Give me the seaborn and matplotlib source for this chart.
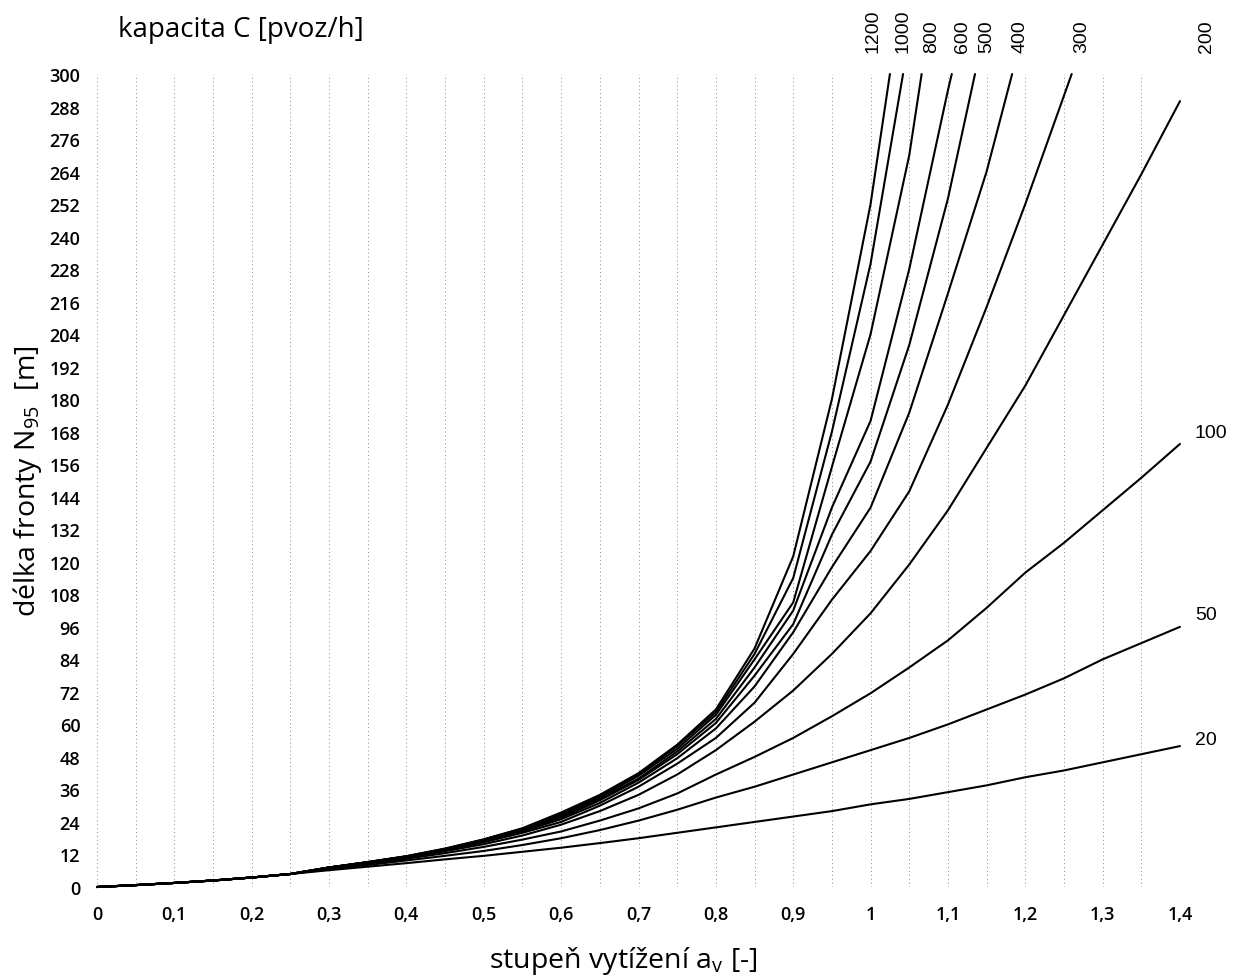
import numpy as np
import pandas as pd
import matplotlib
matplotlib.use("Agg")
import matplotlib.pyplot as plt
import seaborn as sns

# stupen vytizeni a_v, spolecna mrizka po 0,05
a_grid = [0, 0.05, 0.1, 0.15, 0.2, 0.25, 0.3, 0.35, 0.4, 0.45, 0.5, 0.55, 0.6,
          0.65, 0.7, 0.75, 0.8, 0.85, 0.9, 0.95, 1.0, 1.05, 1.1, 1.15, 1.2,
          1.25, 1.3, 1.35, 1.4]

start = [0, 0.7, 1.5, 2.4, 3.5, 4.8]

# delka fronty N95 [m] pro jednotlive kapacity
n_20 = start + [6.2, 7.5, 8.8, 10.2, 11.5, 13, 14.5, 16.2, 18, 20, 22, 24, 26, 28,
                30.5, 32.5, 35, 37.5, 40.5, 43, 46, 49, 52]
n_50 = start + [6.6, 8.1, 9.8, 11.5, 13.3, 15.5, 18, 21, 24.5, 28.5, 33, 37, 41.5,
                46, 50.5, 55, 60, 65.5, 71, 77, 84, 90, 96]
n_100 = start + [6.9, 8.6, 10.4, 12.5, 14.8, 17.5, 20.5, 24.5, 29, 34.5, 41.5, 48,
                 55, 63, 71.5, 81, 91, 103, 116, 127, 139, 151, 163.5]
n_200 = start + [7.1, 8.9, 10.8, 13.2, 15.8, 19, 23, 28, 34, 41.5, 50.5, 61, 72.5,
                 86, 101, 119, 139, 162, 185, 211, 237, 263, 290]
n_300 = start + [7.2, 9, 11, 13.5, 16.5, 20, 24, 30, 37, 45.5, 55, 68, 86, 106,
                 124, 146, 178, 214, 252]
n_400 = start + [7.2, 9, 11.1, 13.6, 16.8, 20.5, 25, 31, 38.5, 47.5, 58.5, 74, 94,
                 118, 140, 175, 219, 264]
n_500 = start + [7.2, 9.1, 11.2, 13.8, 17, 20.8, 25.5, 32, 39.5, 49, 60.5, 78, 97,
                 130, 157, 200, 254]
n_600 = start + [7.2, 9.1, 11.2, 13.9, 17.2, 21, 26, 32.5, 40, 50, 62, 81, 102,
                 140, 172, 228, 294]
n_800 = start + [7.2, 9.2, 11.3, 14, 17.4, 21.3, 26.5, 33, 41, 51, 63.5, 84, 105,
                 155, 204, 270]
n_1000 = start + [7.2, 9.2, 11.3, 14.1, 17.5, 21.5, 27, 33.5, 41.5, 52, 64.5, 86,
                  114, 168, 230]
n_1200 = start + [7.2, 9.2, 11.4, 14.2, 17.6, 21.7, 27.5, 34, 42, 52.5, 65.5, 88,
                  122, 180, 252]

capacities = [20, 50, 100, 200, 300, 400, 500, 600, 800, 1000, 1200]
curves = [n_20, n_50, n_100, n_200, n_300, n_400, n_500, n_600, n_800, n_1000, n_1200]
# kde krivka opousti graf nahore (N95 = 300)
a_at_top = {300: 1.26, 400: 1.183, 500: 1.135, 600: 1.105, 800: 1.066,
            1000: 1.042, 1200: 1.025}

rows = []
for c, vals in zip(capacities, curves):
    for a, n in zip(a_grid, vals):
        rows.append((c, a, n))
    if c in a_at_top:
        rows.append((c, a_at_top[c], 300))
df = pd.DataFrame(rows, columns=["C", "a", "N95"])

sns.set_theme(style="white")
plt.rcParams["font.family"] = ["Open Sans", "DejaVu Sans"]
plt.rcParams["text.color"] = "black"
plt.rcParams["axes.labelcolor"] = "black"
plt.rcParams["xtick.color"] = "black"
plt.rcParams["ytick.color"] = "black"

W, H = 1238, 978
fig = plt.figure(figsize=(W / 100, H / 100), dpi=100)
ax = fig.add_axes([97 / W, (H - 888) / H, (1180 - 97) / W, (888 - 75) / H])

sns.lineplot(data=df, x="a", y="N95", hue="C", units="C", estimator=None,
             sort=False, palette={c: "black" for c in capacities},
             linewidth=1.5, legend=False, ax=ax)
for ln in ax.lines:
    ln.set_clip_on(False)

ax.set_xlim(0, 1.4)
ax.set_ylim(0, 300)
x_ticks = [0, 0.1, 0.2, 0.3, 0.4, 0.5, 0.6, 0.7, 0.8, 0.9, 1, 1.1, 1.2, 1.3, 1.4]
x_labels = ["0", "0,1", "0,2", "0,3", "0,4", "0,5", "0,6", "0,7", "0,8", "0,9",
            "1", "1,1", "1,2", "1,3", "1,4"]
ax.set_xticks(x_ticks)
ax.set_xticklabels(x_labels)
ax.set_xticks(np.arange(0.05, 1.401, 0.1), minor=True)
ax.set_yticks(np.arange(0, 301, 12))
ax.tick_params(axis="x", which="both", length=0, pad=13, labelsize=13)
ax.tick_params(axis="y", length=0, pad=12, labelsize=13)
for lab in ax.get_xticklabels() + ax.get_yticklabels():
    lab.set_fontweight("semibold")
ax.grid(False)
ax.grid(axis="x", which="both", color="#555555", linestyle=(0, (1, 3)),
        linewidth=0.7, alpha=0.7)
sns.despine(ax=ax, left=True, bottom=True, top=True, right=True)

ax.set_xlabel("stupeň vytížení a$_\\mathregular{v}$ [-]", fontsize=20.5,
              va="center")
ax.xaxis.set_label_coords(0.486, -0.090)
ax.set_ylabel("délka fronty N$_\\mathregular{95}$  [m]", fontsize=20.5, labelpad=4)

fig.text(118 / W, 1 - 30 / H, "kapacita C [pvoz/h]", fontsize=20, va="center",
         ha="left")

top_labels = [(873, "1200"), (903, "1000"), (932, "800"), (962, "600"),
              (987, "500"), (1020, "400"), (1082, "300"), (1207, "200")]
for px, t in top_labels:
    fig.text(px / W, 1 - 53 / H, t, rotation=90, fontsize=14, ha="center",
             va="bottom", family="Liberation Sans")

side_labels = [(434, "100"), (616, "50"), (741, "20")]
for py, t in side_labels:
    fig.text(1195 / W, 1 - py / H, t, fontsize=14, ha="left", va="center",
             family="Liberation Sans")

fig.savefig("out.png", dpi=100)
